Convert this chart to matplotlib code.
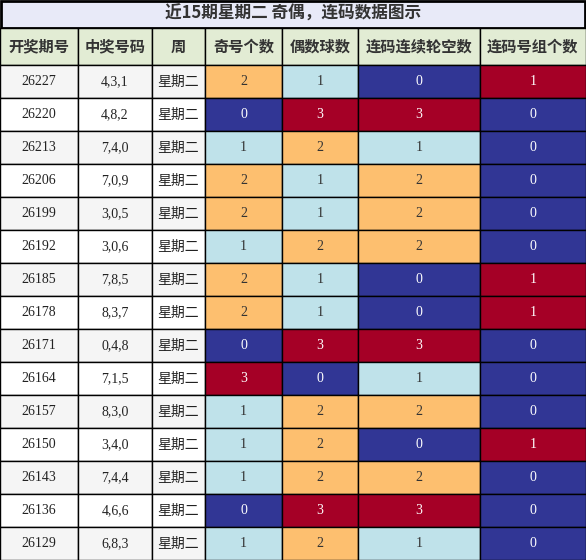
import matplotlib.pyplot as plt
from matplotlib.patches import Rectangle

plt.rcParams['font.family'] = ['Noto Sans CJK SC', 'DejaVu Sans']

title = "近15期星期二 奇偶，连码数据图示"
headers = ["开奖期号", "中奖号码", "周", "奇号个数", "偶数球数", "连码连续轮空数", "连码号组个数"]
issues = ["26227", "26220", "26213", "26206", "26199", "26192", "26185", "26178",
          "26171", "26164", "26157", "26150", "26143", "26136", "26129"]
numbers = ["4,3,1", "4,8,2", "7,4,0", "7,0,9", "3,0,5", "3,0,6", "7,8,5", "8,3,7",
           "0,4,8", "7,1,5", "8,3,0", "3,4,0", "7,4,4", "4,6,6", "6,8,3"]
odd = [2, 0, 1, 2, 2, 1, 2, 2, 0, 3, 1, 1, 1, 0, 1]
even = [1, 3, 2, 1, 1, 2, 1, 1, 3, 0, 2, 2, 2, 3, 2]
gap = [0, 3, 1, 2, 2, 2, 0, 0, 3, 1, 2, 0, 2, 3, 1]
groups = [1, 0, 0, 0, 0, 0, 1, 1, 0, 0, 0, 1, 0, 0, 0]

W, H = 586, 560
colx = [0, 78, 152, 205, 282, 358, 480, 586]
title_h = 28
head_h = 37
row_h = (H - title_h - head_h) / len(issues)

fig = plt.figure(figsize=(W / 100, H / 100), dpi=100)
ax = fig.add_axes([0, 0, 1, 1])
ax.set_xlim(0, W)
ax.set_ylim(H, 0)
ax.axis('off')

# title
ax.add_patch(Rectangle((1, 1), W - 2, title_h - 1, fc='#e8eaf8', ec='black', lw=2))
ax.text(W / 2, title_h / 2, title, ha='center', va='center', fontsize=12,
        fontweight='bold', color='#333333')

# header
for i, h in enumerate(headers):
    x0, x1 = colx[i], colx[i + 1]
    ax.add_patch(Rectangle((x0, title_h), x1 - x0, head_h, fc='#e2ecd4', ec='black', lw=1))
    ax.text((x0 + x1) / 2, title_h + head_h / 2, h, ha='center', va='center',
            fontsize=11, fontweight='bold', color='#333333')


def heat(v, vmax):
    frac = v / vmax
    if frac == 0:
        return '#313695', 'white'
    if frac >= 1:
        return '#a50026', 'white'
    if frac < 0.5:
        return '#bfe2ea', '#333333'
    return '#fdbf6f', '#333333'


stats = [odd, even, gap, groups]
for r in range(len(issues)):
    y0 = title_h + head_h + r * row_h
    bg = '#f5f5f5' if r % 2 == 0 else 'white'
    texts = [issues[r], numbers[r], "星期二"]
    for c, t in enumerate(texts):
        x0, x1 = colx[c], colx[c + 1]
        ax.add_patch(Rectangle((x0, y0), x1 - x0, row_h, fc=bg, ec='black', lw=1))
        fam = ['Liberation Serif'] if c < 2 else ['Noto Sans CJK SC']
        ax.text((x0 + x1) / 2, y0 + row_h / 2, t, ha='center', va='center',
                fontsize=10, color='#222222', family=fam)
    for k, col in enumerate(stats):
        c = k + 3
        x0, x1 = colx[c], colx[c + 1]
        fc, tc = heat(col[r], max(col))
        ax.add_patch(Rectangle((x0, y0), x1 - x0, row_h, fc=fc, ec='black', lw=1))
        ax.text((x0 + x1) / 2, y0 + row_h / 2, str(col[r]), ha='center', va='center',
                fontsize=10, color=tc, family=['Liberation Serif'])

fig.savefig('out.png', dpi=100)
